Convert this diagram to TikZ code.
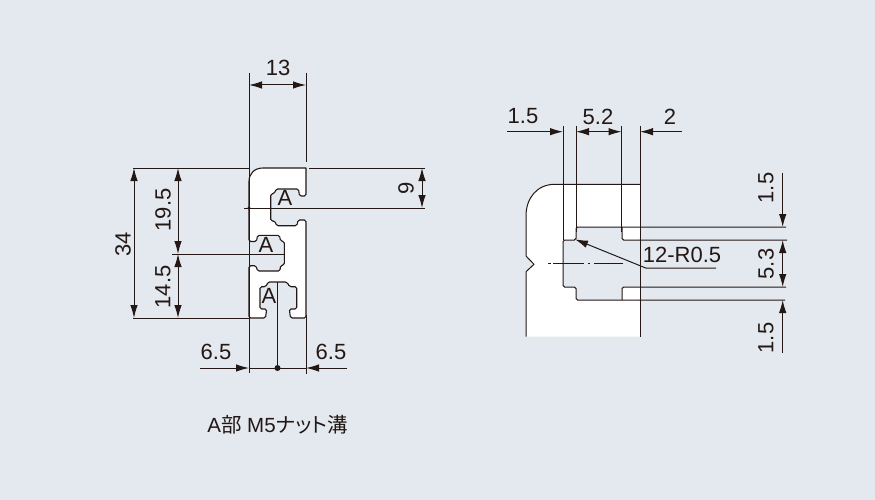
\documentclass[tikz,border=0pt]{standalone}
\usepackage{fontspec}
\setmainfont{Liberation Sans}
\newfontfamily\cjkfont[RawFeature=+palt]{Noto Sans CJK JP}
\usetikzlibrary{arrows.meta}
\definecolor{panel}{HTML}{E3E9EE}
\definecolor{ink}{HTML}{231815}
\tikzset{
	outline/.style={draw=ink,fill=white,line width=1.1pt,line join=round},
	thin line/.style={draw=ink,line width=1pt},
	tip/.style={thin line,-{Latex[length=13pt,width=7.5pt]}},
	tips/.style={thin line,{Latex[length=13pt,width=7.5pt]}-{Latex[length=13pt,width=7.5pt]}},
	dim/.style={inner sep=0pt,text=ink,font=\fontsize{22}{22}\selectfont},
	dimv/.style={dim,rotate=90},
}
\begin{document}
\begin{tikzpicture}[x=1pt,y=-1pt]
	\fill[panel] (0,0) rectangle (875,500);
	\useasboundingbox (0,0) rectangle (875,500);
	% profile
	\begin{scope}
		\path[outline,rounded corners=1.6pt] (249,183) [sharp corners] .. controls (249,174) and (254,168) .. (263,168) -- (306,168) [rounded corners=1.6pt] -- (306,196) -- (299.5,196) -- (298.5,189) -- (276,189) -- (274.5,193.5) -- (270.7,194) -- (270.7,221) -- (275,221) -- (276.5,225.7) -- (297,225.7) -- (298,220) -- (306,220) -- (306,318) -- (290.5,318) -- (289.3,309) -- (296.7,309) -- (296.7,286.7) -- (289.5,286.7) -- (287,282) -- (268,282) -- (266,286.7) -- (260,286.7) -- (260,309) -- (266.7,309) -- (265.5,318) -- (249,318) -- (249,265.7) -- (256,265.7) -- (257.5,271) -- (280,271) -- (280.5,265.5) -- (284.3,265) -- (284.3,241.5) -- (280.5,241) -- (279.5,235.3) -- (257.5,235.3) -- (256.5,241.5) -- (249,241.5) -- cycle;
		% extension lines
		\draw[thin line] (249,73) -- (249,373) (306,73) -- (306,161.7) (306,315) -- (306,374);
		\draw[thin line] (133,168) -- (249,168) (309,168) -- (425,168);
		\draw[thin line] (244,208) -- (425,208);
		\draw[thin line] (172,254) -- (284,254);
		\draw[thin line] (133,318) -- (249,318);
		\draw[thin line] (277.5,282) -- (277.5,368);
		\fill[ink] (249,208) circle (1.6);
		\fill[ink] (277.5,368) circle (3);
		% dimensions
		\draw[tips] (249,85) -- (306,85);
		\draw[tips] (134,168) -- (134,318);
		\draw[tips] (178,168) -- (178,254);
		\draw[tips] (178,254) -- (178,318);
		\draw[tips] (422,168) -- (422,208);
		\draw[tip] (200,368) -- (249,368);
		\draw[tip] (347,368) -- (306,368);
		\draw[thin line] (249,368) -- (306,368);
		\node[dim] (dimthirteen) at (278,68) {13};
		\node[dimv] (dimtotal) at (123,244) {34};
		\node[dimv] (dimupper) at (163,210) {19.5};
		\node[dimv] (dimlower) at (163,287) {14.5};
		\node[dimv] (dimnine) at (406,188) {9};
		\node[dim] (dimleft) at (216,352) {6.5};
		\node[dim] (dimright) at (331,352) {6.5};
		\node[dim] (slota) at (285,198) {A};
		\node[dim] (slotb) at (266,245) {A};
		\node[dim] (slotc) at (269,296) {A};
	\end{scope}
	\node[dim,font=\fontsize{20.5}{20.5}\selectfont] (caption) at (277.5,425) {A\cjkfont 部\rmfamily\ M5\cjkfont ナット溝};
	% detail
	\begin{scope}
		\path[fill=white] (526,336.7) -- (526,271.7) -- (534,264.3) -- (526,256) -- (526,216) .. controls (526,198) and (537,184.3) .. (555,184.3) -- (640,184.3) -- (640,336.7) -- cycle;
		\path[fill=panel,rounded corners=1.6pt] (800,227) -- (576,227) -- (576,240) -- (563,240) -- (563,287) -- (576,287) -- (576,300) -- (800,300) -- cycle;
		\path[fill=white,rounded corners=1.6pt] (640,227) -- (622,227) -- (622,240) -- (640,240) [sharp corners] -- cycle;
		\path[fill=white,rounded corners=1.6pt] (640,287) -- (622,287) -- (622,300) -- (640,300) [sharp corners] -- cycle;
		\draw[thin line,line join=round] (526,336.7) -- (526,271.7) -- (534,264.3) -- (526,256) -- (526,216) .. controls (526,198) and (537,184.3) .. (555,184.3) -- (640,184.3);
		\draw[thin line,rounded corners=1.6pt] (786,227) -- (576,227) -- (576,240) -- (563,240) -- (563,287) -- (576,287) -- (576,300) -- (785,300);
		\draw[thin line,rounded corners=1.6pt] (787,240) -- (622,240) -- (622,227);
		\draw[thin line,rounded corners=1.6pt] (786,287) -- (622,287) -- (622,300);
		\draw[thin line] (563,126) -- (563,240) (576,126) -- (576,232) (621.5,126) -- (621.5,232);
		\draw[thin line] (640,126) -- (640,336.7);
		\draw[thin line,dash pattern=on 3pt off 2pt on 31pt off 4pt on 2pt off 4pt on 29pt off 100pt] (548,263.7) -- (623,263.7);
		% dimensions
		\draw[tip] (507,131.7) -- (563,131.7);
		\draw[tips] (576,131.7) -- (621.5,131.7);
		\draw[tip] (682,131.7) -- (640,131.7);
		\draw[tip] (782.7,172.7) -- (782.7,227);
		\draw[tips] (782.7,240) -- (782.7,287);
		\draw[tip] (782.7,353) -- (782.7,300);
		\draw[tip] (716,268) -- (645.7,268) -- (575,239.3);
		\node[dim] (dimslot) at (523,116.5) {1.5};
		\node[dim] (dimwidth) at (598,116.5) {5.2};
		\node[dim] (dimlip) at (670,116.5) {2};
		\node[dimv] (dimtop) at (766,188) {1.5};
		\node[dimv] (dimgap) at (766,264) {5.3};
		\node[dimv] (dimbottom) at (766,338) {1.5};
		\node[dim] (dimradius) at (682,255) {12-R0.5};
	\end{scope}
\end{tikzpicture}
\end{document}
